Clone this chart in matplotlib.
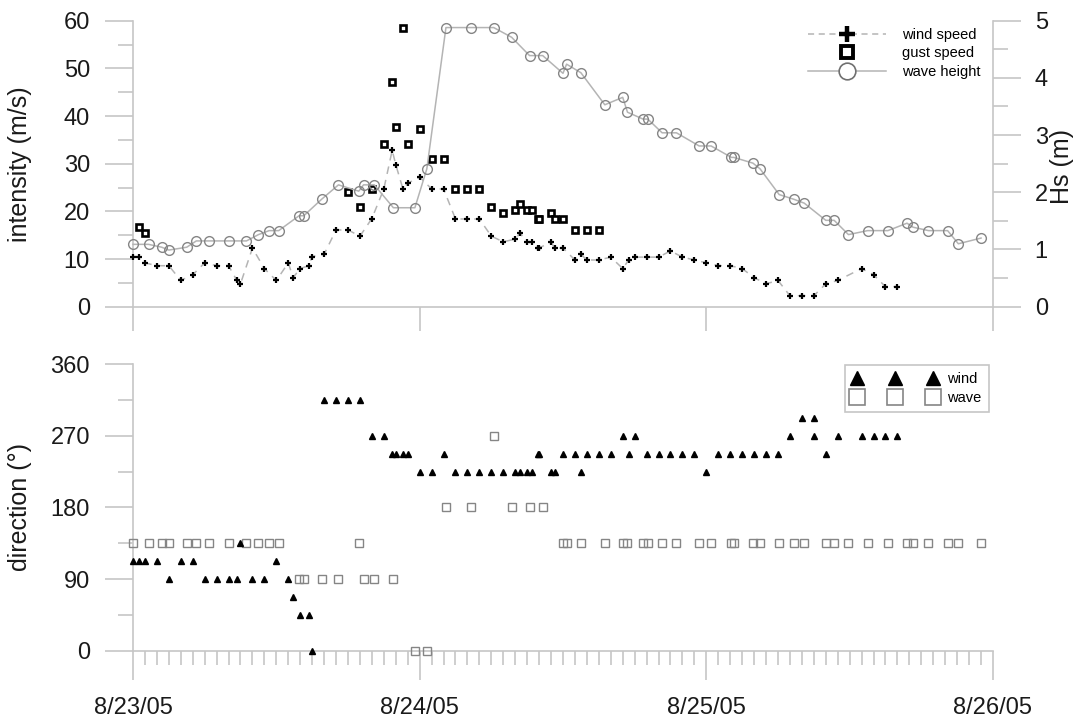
import numpy as np
import pandas as pd
import matplotlib
matplotlib.use("Agg")
import matplotlib.pyplot as plt
import matplotlib.dates as mdates
from matplotlib.lines import Line2D
from matplotlib.ticker import MultipleLocator, FuncFormatter

plt.rcParams["font.family"] = ["Liberation Sans", "DejaVu Sans"]

START = pd.Timestamp("2005-08-23")

# Buoy record, hours after 8/23/05 00:00
wind_hours = [0, 0.5, 1, 2, 3, 4, 5, 6, 7, 8, 8.7, 9, 10, 11, 12, 13, 13.4, 14, 14.7, 15,
              16, 17, 18, 19, 20, 21, 21.7, 22, 22.6, 23, 24, 25, 26, 27, 28, 29, 30, 31, 32, 32.4,
              33, 33.4, 33.9, 34, 35, 35.3, 36, 37, 37.5, 38, 39, 40, 41, 41.5, 42, 43, 44, 45, 46, 47,
              48, 49, 50, 51, 52, 53, 54, 55, 56, 57, 58, 59, 61, 62, 63, 64]
wind_speed = [10.5, 10.5, 9.2, 8.6, 8.6, 5.5, 6.7, 9.2, 8.6, 8.6, 5.5, 4.8, 12.3, 8.0, 5.5, 9.2, 6.1, 8.0, 8.6, 10.5,
              11.0, 16.1, 16.1, 14.8, 18.5, 24.7, 32.8, 29.8, 24.7, 25.9, 27.2, 24.7, 24.7, 18.4, 18.4, 18.4, 14.8, 13.6, 14.2, 15.4,
              13.6, 13.6, 12.3, 12.3, 13.6, 12.3, 12.3, 9.8, 11.0, 9.8, 9.8, 10.4, 8.0, 9.8, 10.4, 10.4, 10.4, 11.7, 10.4, 9.8,
              9.2, 8.6, 8.6, 8.0, 6.1, 4.8, 5.5, 2.3, 2.3, 2.3, 4.8, 5.5, 8.0, 6.7, 4.2, 4.2]

gust_hours = [0.5, 1, 18, 19, 20, 21, 21.7, 22, 22.6, 23, 24, 25, 26, 27, 28, 29, 30, 31, 32, 32.4,
              33, 33.4, 33.9, 34, 35, 35.3, 36, 37, 38, 39]
gust_speed = [16.7, 15.4, 24.0, 21.0, 24.7, 34.1, 47.2, 37.8, 58.4, 34.1, 37.2, 30.9, 30.9, 24.7, 24.7, 24.7, 21.0, 19.7, 20.3, 21.6,
              20.3, 20.3, 18.4, 18.4, 19.7, 18.4, 18.4, 16.0, 16.0, 16.0]

wind_dir_hours = wind_hours[:70] + [57] + wind_hours[70:]
wind_dir = [112.5, 112.5, 112.5, 112.5, 90, 112.5, 112.5, 90, 90, 90,
            90, 135, 90, 90, 112.5, 90, 67.5, 45, 45, 0,
            315, 315, 315, 315, 270, 270, 247.5, 247.5, 247.5, 247.5,
            225, 225, 247.5, 225, 225, 225, 225, 225, 225, 225,
            225, 225, 247.5, 247.5, 225, 225, 247.5, 247.5, 225, 247.5,
            247.5, 247.5, 270, 247.5, 270, 247.5, 247.5, 247.5, 247.5, 247.5,
            225, 247.5, 247.5, 247.5, 247.5, 247.5, 247.5, 270, 292.5, 292.5,
            270,
            247.5, 270, 270, 270, 270, 270]

wave_hours = [0, 1.3, 2.4, 3, 4.5, 5.3, 6.4, 8, 9.5, 10.5, 11.4, 12.2, 13.9, 14.3, 15.8, 17.2, 18.9, 19.3, 20.2, 21.8,
              23.6, 24.6, 26.2, 28.3, 30.2, 31.7, 33.2, 34.3, 36, 36.3, 37.5, 39.5, 41, 41.4, 42.7, 43.1, 44.3, 45.5, 47.4, 48.4,
              50.1, 50.3, 51.9, 52.5, 54.1, 55.3, 56.2, 58, 58.7, 59.9, 61.5, 63.2, 64.8, 65.3, 66.6, 68.2, 69.1, 71]
wave_height = [1.09, 1.09, 1.04, 0.99, 1.04, 1.15, 1.15, 1.15, 1.15, 1.26, 1.33, 1.33, 1.59, 1.59, 1.88, 2.13, 2.02, 2.13, 2.13, 1.73,
               1.73, 2.41, 4.88, 4.88, 4.88, 4.71, 4.39, 4.39, 4.08, 4.24, 4.09, 3.53, 3.66, 3.40, 3.28, 3.28, 3.04, 3.04, 2.81, 2.81,
               2.61, 2.61, 2.51, 2.41, 1.96, 1.88, 1.81, 1.51, 1.51, 1.26, 1.33, 1.33, 1.46, 1.39, 1.33, 1.33, 1.10, 1.20]
wave_dir = ([135] * 12 + [90] * 4 + [135] + [90] * 3 + [0] * 2
            + [180] * 2 + [270] + [180] * 3 + [135] * 30)

AXIS_GRAY = "#c6c6c6"
LINE_GRAY = "#b4b4b4"
MARK_GRAY = "#858585"
TEXT = "#1a1a1a"
FS = 17
LABEL_FS = 18


def to_time(hours):
    return START + pd.to_timedelta(np.asarray(hours, dtype=float), unit="h")


def date_label(value, pos):
    d = mdates.num2date(value)
    return f"{d.month}/{d.day}/{d:%y}"


def style_axis(ax):
    for side in ("top", "right"):
        ax.spines[side].set_visible(False)
    for side in ("left", "bottom"):
        ax.spines[side].set_color(AXIS_GRAY)
        ax.spines[side].set_linewidth(1.2)
    ax.tick_params(which="both", direction="out", color=AXIS_GRAY, width=1.2,
                   labelsize=FS, labelcolor=TEXT)
    ax.tick_params(axis="y", which="major", length=20, pad=11)
    ax.tick_params(axis="y", which="minor", length=10.5)
    ax.set_xlim(START, START + pd.Timedelta(days=3))
    ax.xaxis.set_major_locator(mdates.DayLocator())


def main():
    fig = plt.figure(figsize=(10.88, 7.22), dpi=100)
    ax1 = fig.add_axes([0.12224, 0.57521, 0.79044, 0.39612])
    ax3 = fig.add_axes([0.12224, 0.09861, 0.79044, 0.39723])

    # ---- upper panel: wind / gust speed and significant wave height ----
    style_axis(ax1)
    ax1.set_ylim(0, 60)
    ax1.yaxis.set_major_locator(MultipleLocator(10))
    ax1.yaxis.set_minor_locator(MultipleLocator(5))
    ax1.tick_params(axis="x", which="major", length=17, labelbottom=False)

    ax1.plot(to_time(wind_hours), wind_speed, color=LINE_GRAY, ls=(0, (5, 4)), lw=1.1,
             marker="+", ms=5, mew=1.6, mec="black", clip_on=False, zorder=3)
    ax1.plot(to_time(gust_hours), gust_speed, ls="none", marker="s", ms=4.6, mew=1.9,
             mec="black", mfc="white", clip_on=False, zorder=4)
    ax1.set_ylabel("intensity (m/s)", fontsize=LABEL_FS, color=TEXT)
    ax1.yaxis.set_label_coords(-0.1174, 0.5)

    ax2 = ax1.twinx()
    for side in ("left", "top", "bottom"):
        ax2.spines[side].set_visible(False)
    ax2.spines["right"].set_color(AXIS_GRAY)
    ax2.spines["right"].set_linewidth(1.2)
    ax2.set_ylim(0, 5)
    ax2.yaxis.set_major_locator(MultipleLocator(1))
    ax2.yaxis.set_minor_locator(MultipleLocator(0.5))
    ax2.tick_params(axis="y", which="both", direction="out", color=AXIS_GRAY, width=1.2,
                    labelsize=FS, labelcolor=TEXT)
    ax2.tick_params(axis="y", which="major", length=20, pad=10)
    ax2.tick_params(axis="y", which="minor", length=10.5)
    ax2.plot(to_time(wave_hours), wave_height, color=LINE_GRAY, lw=1.1, marker="o", ms=7,
             mfc="none", mec=MARK_GRAY, mew=1.0, clip_on=False, zorder=2)
    ax2.set_ylabel("Hs (m)", fontsize=LABEL_FS, color=TEXT)
    ax2.yaxis.set_label_coords(1.066, 0.49)

    top_handles = [
        Line2D([], [], color=LINE_GRAY, ls=(0, (4, 3)), lw=1.1, marker="+", ms=11, mew=3.2, mec="black"),
        Line2D([], [], ls="none", marker="s", ms=8.5, mew=2.8, mec="black", mfc="white"),
        Line2D([], [], color=LINE_GRAY, lw=1.1, marker="o", ms=12, mfc="white", mec="#707070", mew=1.2),
    ]
    ax2.legend(top_handles, ["wind speed", "gust speed", "wave height"], loc="upper right",
               bbox_to_anchor=(0.985, 0.9745), frameon=False, fontsize=10.5, numpoints=1,
               handlelength=5.3, handletextpad=1.1, labelspacing=0.3, borderpad=0, borderaxespad=0)

    # ---- lower panel: wind and wave direction ----
    style_axis(ax3)
    ax3.set_ylim(0, 360)
    ax3.yaxis.set_major_locator(MultipleLocator(90))
    ax3.yaxis.set_minor_locator(MultipleLocator(45))
    ax3.xaxis.set_minor_locator(mdates.HourLocator())
    ax3.xaxis.set_major_formatter(FuncFormatter(date_label))
    ax3.tick_params(axis="x", which="major", length=21, pad=12)
    ax3.tick_params(axis="x", which="minor", length=10)

    ax3.plot(to_time(wind_dir_hours), wind_dir, ls="none", marker="^", ms=5, color="black",
             clip_on=False, zorder=4)
    ax3.plot(to_time(wave_hours), wave_dir, ls="none", marker="s", ms=5.5, mfc="none",
             mec=MARK_GRAY, mew=1.0, clip_on=False, zorder=3)
    ax3.set_ylabel("direction (°)", fontsize=LABEL_FS, color=TEXT)
    ax3.yaxis.set_label_coords(-0.1174, 0.5)

    dir_handles = [
        Line2D([], [], ls="none", marker="^", ms=10, color="black"),
        Line2D([], [], ls="none", marker="s", ms=12, mfc="none", mec=MARK_GRAY, mew=1.2),
    ]
    leg = ax3.legend(dir_handles, ["wind", "wave"], loc="upper right",
                     bbox_to_anchor=(0.9953, 0.9965), numpoints=3, fontsize=10.5,
                     handlelength=5.8, handletextpad=0.7, labelspacing=0.3,
                     borderpad=0.5, borderaxespad=0, fancybox=False,
                     edgecolor=AXIS_GRAY, framealpha=1)
    leg.get_frame().set_linewidth(1.2)

    fig.savefig("out.png", dpi=100)


if __name__ == "__main__":
    main()
